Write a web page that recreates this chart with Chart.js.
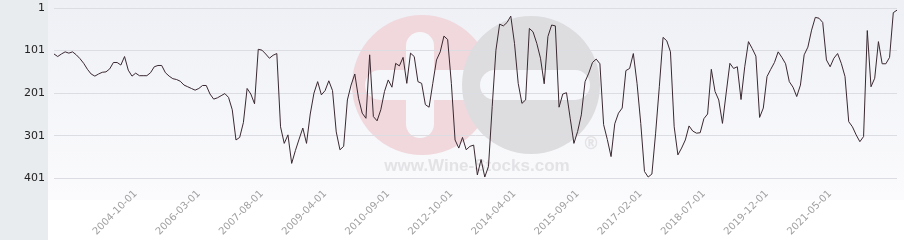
<!DOCTYPE html>
<html>
<head>
<meta charset="utf-8">
<script src="https://cdn.jsdelivr.net/npm/chart.js@4/dist/chart.umd.min.js"></script>
<style>
  html, body { margin: 0; padding: 0; background: #fff; }
  #rankChart { display: block; }
</style>
</head>
<body>
<canvas id="rankChart" width="904" height="240"></canvas>
<script>
// monthly ranking, first month and months without a value
var START_YEAR = 2002;
var START_MONTH = 12;
var SKIPPED_MONTHS = [
  '2008-02-01', '2008-07-01', '2008-11-01',
  '2011-02-01', '2011-05-01', '2011-08-01', '2011-11-01',
  '2012-01-01', '2012-03-01', '2012-05-01', '2012-07-01',
  '2013-06-01'
];

// dates that carry a label on the x axis
var TICK_DATES = [
  '2004-10-01', '2006-03-01', '2007-08-01', '2009-04-01', '2010-09-01', '2012-10-01',
  '2014-04-01', '2015-09-01', '2017-02-01', '2018-07-01', '2019-12-01', '2021-05-01'
];

var Y_TICKS = [1, 101, 201, 301, 401];

// rank per month (1 = best)
var RANKS = [
  109, 115, 109, 104, 107, 104, 111, 120, 131, 145, 156, 161, 156, 152, 151, 144, 129, 129, 135, 115,
  147, 161, 154, 160, 160, 160, 153, 139, 136, 136, 153, 161, 167, 169, 173, 182, 186, 190, 194, 190,
  183, 183, 203, 215, 212, 207, 202, 211, 240, 311, 305, 270, 190, 203, 226, 98, 100, 109, 119, 112,
  108, 280, 319, 299, 366, 336, 309, 283, 319, 250, 201, 174, 205, 195, 172, 195, 292, 334, 326, 217,
  182, 156, 213, 248, 260, 111, 256, 266, 240, 197, 170, 187, 131, 137, 117, 178, 107, 115, 174, 178,
  228, 234, 178, 123, 104, 67, 75, 178, 311, 330, 305, 334, 326, 323, 393, 357, 398, 373, 232, 100,
  39, 43, 35, 20, 84, 178, 225, 217, 49, 57, 84, 119, 179, 68, 41, 43, 234, 203, 200, 260,
  319, 291, 252, 174, 154, 129, 121, 132, 275, 310, 350, 273, 248, 236, 148, 143, 108, 178, 272, 385,
  398, 391, 295, 186, 70, 78, 104, 280, 346, 330, 311, 278, 290, 295, 294, 261, 250, 145, 197, 217,
  272, 201, 131, 143, 139, 216, 139, 80, 96, 114, 258, 236, 162, 145, 129, 104, 117, 132, 174, 187,
  209, 182, 111, 93, 53, 23, 25, 35, 123, 139, 119, 108, 131, 162, 268, 280, 299, 315, 303, 54,
  186, 166, 80, 132, 132, 117, 12, 6
];

function pad2(n) { return (n < 10 ? '0' : '') + n; }

// month labels from the start month, leaving out the skipped months
function buildMonthLabels(count) {
  var out = [];
  var y = START_YEAR, m = START_MONTH;
  while (out.length < count) {
    var key = y + '-' + pad2(m) + '-01';
    if (SKIPPED_MONTHS.indexOf(key) === -1) out.push(key);
    m++;
    if (m > 12) { m = 1; y++; }
  }
  return out;
}

var MONTHS = buildMonthLabels(RANKS.length);

var backdropPlugin = {
  id: 'backdrop',
  beforeDraw: function(chart) {
    var ctx = chart.ctx;
    ctx.save();
    ctx.fillStyle = '#ffffff';
    ctx.fillRect(0, 0, chart.width, chart.height);

    var grad = ctx.createLinearGradient(0, 0, 0, 200);
    grad.addColorStop(0, '#eef0f5');
    grad.addColorStop(1, '#fbfbfd');
    ctx.fillStyle = grad;
    ctx.fillRect(48, 0, chart.width - 48, 200);

    ctx.fillStyle = '#e9ecef';
    ctx.fillRect(0, 0, 48, chart.height);

    // watermark logo
    ctx.fillStyle = '#f0d8dd';
    ctx.beginPath(); ctx.arc(422, 85, 70, 0, Math.PI * 2); ctx.fill();
    ctx.fillStyle = '#f6f7fa';
    roundRect(ctx, 406, 32, 28, 106, 14);
    roundRect(ctx, 365, 70, 115, 30, 15);
    ctx.fillStyle = '#dddde0';
    ctx.beginPath(); ctx.arc(531, 85, 69, 0, Math.PI * 2); ctx.fill();
    ctx.fillStyle = '#f6f7fa';
    roundRect(ctx, 480, 70, 110, 30, 15);

    ctx.fillStyle = '#e3e3e6';
    ctx.font = 'bold 17px "Liberation Sans", Arial, sans-serif';
    ctx.textAlign = 'center';
    ctx.textBaseline = 'middle';
    ctx.fillText('www.Wine-Stocks.com', 477, 166);
    ctx.font = 'bold 17px "DejaVu Sans", sans-serif';
    ctx.fillText('®', 591, 145);
    ctx.restore();
  }
};

function roundRect(ctx, x, y, w, h, r) {
  ctx.beginPath();
  ctx.moveTo(x + r, y);
  ctx.arcTo(x + w, y, x + w, y + h, r);
  ctx.arcTo(x + w, y + h, x, y + h, r);
  ctx.arcTo(x, y + h, x, y, r);
  ctx.arcTo(x, y, x + w, y, r);
  ctx.closePath();
  ctx.fill();
}

new Chart(document.getElementById('rankChart'), {
  type: 'line',
  data: {
    labels: MONTHS,
    datasets: [{
      data: RANKS,
      borderColor: '#3a2830',
      borderWidth: 1,
      pointRadius: 0,
      tension: 0,
      fill: false
    }]
  },
  plugins: [backdropPlugin],
  options: {
    responsive: false,
    animation: false,
    layout: { padding: { top: 0, right: 7, bottom: 0, left: 0 } },
    plugins: { legend: { display: false }, tooltip: { enabled: false } },
    scales: {
      x: {
        type: 'category',
        grid: { display: false },
        border: { display: false },
        afterFit: function(scale) {
          scale.height = 60;
          scale.paddingLeft = 0;
          scale.paddingRight = 0;
        },
        ticks: {
          autoSkip: false,
          minRotation: 45,
          maxRotation: 45,
          padding: 0,
          color: '#a0a0a0',
          font: { family: 'DejaVu Sans', size: 10 },
          callback: function(val) {
            var lbl = this.getLabelForValue(val);
            return TICK_DATES.indexOf(lbl) !== -1 ? lbl : '';
          }
        }
      },
      y: {
        reverse: true,
        min: -17.8,
        max: 405,
        border: { display: false },
        grid: { color: '#dcdde2', lineWidth: 1, drawTicks: false },
        afterFit: function(scale) {
          scale.width = 54;
          scale.paddingTop = 0;
          scale.paddingBottom = 0;
        },
        afterBuildTicks: function(scale) {
          scale.ticks = Y_TICKS.map(function(v) { return { value: v }; });
        },
        ticks: {
          padding: 9,
          color: '#222',
          font: { family: 'DejaVu Sans', size: 11 }
        }
      }
    }
  }
});
</script>
</body>
</html>
